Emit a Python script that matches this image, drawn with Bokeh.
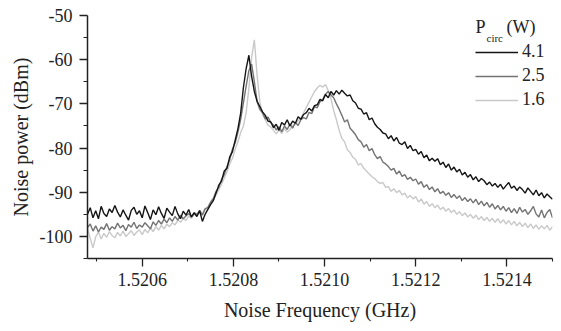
from bokeh.plotting import figure
from bokeh.models import (Range1d, FixedTicker, PrintfTickFormatter, Legend, LegendItem, Label)
from bokeh.embed import file_html
from bokeh.resources import INLINE

# ---------------- data ----------------
FREQ_START = 1.52048   # GHz, first sample
FREQ_STEP = 6e-6       # GHz, sample spacing

p_4_1 = [
    -95.0, -93.5, -95.8, -94.2, -96.0, -93.2, -94.8, -95.5, -93.8, -94.6,
    -93.0, -94.5, -95.6, -94.0, -95.2, -96.3, -94.1, -93.4, -95.0, -94.2,
    -95.8, -93.1, -94.6, -96.2, -94.0, -95.1, -93.3, -94.8, -95.9, -93.6,
    -94.5, -95.3, -93.2, -94.9, -96.0, -94.3, -95.2, -93.9, -95.6, -94.7,
    -95.5, -94.2, -96.6, -95.0, -93.9, -92.8, -91.9, -90.2, -88.4, -87.5,
    -85.2, -84.6, -82.0, -80.8, -78.2, -75.6, -72.1, -66.3, -62.0, -59.0,
    -63.8, -67.2, -69.4, -70.6, -71.8, -72.6, -73.9, -74.1, -75.4, -74.6,
    -76.0, -74.2, -74.8, -73.6, -75.0, -73.9, -74.4, -72.9, -73.5, -72.4,
    -72.0, -71.0, -71.6, -70.4, -70.2, -69.0, -69.3, -67.9, -68.6, -67.2,
    -68.0, -67.0, -67.8, -66.9, -67.6, -68.2, -68.0, -69.3, -69.8, -71.0,
    -71.2, -72.3, -72.0, -73.6, -73.2, -74.5, -75.3, -75.8, -76.6, -76.8,
    -77.9, -77.2, -78.4, -77.6, -78.9, -79.2, -78.6, -80.1, -79.4, -80.6,
    -80.3, -81.4, -80.8, -82.2, -81.6, -82.9, -82.3, -83.0, -82.4, -83.8,
    -83.2, -84.4, -83.6, -85.0, -84.3, -85.4, -84.8, -86.1, -85.5, -86.6,
    -86.0, -87.2, -86.5, -87.6, -86.9, -87.4, -88.3, -87.7, -88.6, -88.0,
    -88.9, -88.2, -89.3, -88.5, -87.8, -89.1, -88.6, -89.6, -88.8, -89.4,
    -90.2, -89.0, -89.8, -90.6, -89.5, -90.8, -90.1, -91.3, -90.4, -91.0, -91.6,
]

p_2_5 = [
    -98.0, -97.2, -98.8, -97.6, -99.0, -97.9, -98.4, -97.1, -98.6, -97.8,
    -98.3, -97.0, -98.1, -97.5, -98.7, -97.3, -97.9, -96.8, -98.2, -97.4,
    -97.9, -96.9, -97.6, -98.3, -96.7, -97.5, -96.4, -97.2, -96.1, -96.9,
    -95.8, -96.6, -95.5, -96.3, -95.2, -96.0, -95.4, -94.8, -95.6, -94.6,
    -95.0, -94.1, -95.2, -93.8, -93.4, -92.2, -91.4, -89.8, -88.9, -87.1,
    -86.0, -84.2, -82.6, -80.2, -78.8, -76.4, -73.5, -69.8, -66.0, -62.5,
    -61.0, -65.0, -69.5, -71.3, -72.0, -73.4, -73.0, -74.2, -74.8, -75.9,
    -75.2, -76.3, -75.0, -75.8, -74.6, -75.5, -74.2, -74.9, -73.6, -73.1,
    -73.4, -71.9, -72.2, -70.6, -70.9, -69.5, -69.0, -67.8, -67.2, -68.0,
    -68.6, -70.0, -71.2, -72.6, -74.1, -73.6, -75.5, -76.2, -77.0, -78.1,
    -78.6, -79.8, -79.2, -80.6, -80.1, -81.5, -82.4, -81.9, -83.2, -83.6,
    -84.2, -85.0, -84.6, -85.9, -85.2, -86.4, -86.0, -87.1, -86.6, -87.4,
    -87.0, -88.2, -87.6, -88.9, -88.3, -89.4, -88.8, -89.9, -89.2, -90.3,
    -89.8, -90.7, -90.1, -91.2, -90.5, -91.4, -90.8, -91.9, -91.2, -92.1,
    -91.5, -92.4, -91.6, -92.8, -92.0, -93.1, -92.3, -93.4, -92.6, -93.8,
    -93.0, -94.0, -93.2, -94.3, -93.5, -94.6, -93.7, -94.8, -93.4, -94.5,
    -93.9, -95.0, -94.2, -93.2, -94.9, -95.6, -94.0, -95.8, -94.6, -93.9, -95.8,
]

p_1_6 = [
    -98.2, -100.4, -102.6, -100.1, -99.0, -100.6, -99.3, -100.2, -98.9, -99.8,
    -100.3, -99.1, -99.9, -98.8, -100.0, -99.4, -98.7, -99.8, -99.0, -98.5,
    -99.6, -98.4, -99.2, -98.1, -98.9, -97.8, -98.6, -97.5, -98.3, -97.2,
    -97.8, -96.9, -97.4, -96.3, -96.8, -95.9, -96.4, -95.4, -95.9, -95.0,
    -95.2, -94.4, -94.9, -93.6, -93.9, -92.5, -91.8, -90.6, -89.5, -88.2,
    -86.8, -85.4, -83.6, -82.3, -80.2, -78.6, -76.5, -75.0, -72.0, -66.5,
    -59.5, -55.5, -63.5, -69.5, -72.4, -73.6, -74.8, -75.2, -76.0, -76.8,
    -75.9, -76.7, -75.6, -76.4, -75.8, -75.0, -74.6, -73.8, -73.2, -72.0,
    -70.8, -69.6, -68.4, -67.2, -66.4, -65.8, -66.2, -65.6, -67.0, -68.8,
    -71.5, -73.6, -76.0, -77.8, -78.6, -80.4, -81.0, -82.1, -82.6, -83.8,
    -83.5, -84.6, -85.2, -85.9, -86.5, -86.9, -87.6, -88.0, -87.8, -88.9,
    -88.7, -89.8, -89.2, -90.1, -89.6, -90.6, -90.2, -91.3, -90.7, -91.5,
    -91.0, -92.2, -91.5, -92.7, -92.1, -93.2, -92.6, -93.5, -92.9, -93.9,
    -93.4, -94.3, -93.7, -94.6, -94.0, -95.0, -94.4, -95.3, -94.7, -95.6,
    -95.0, -95.9, -95.2, -96.2, -95.5, -96.4, -95.7, -96.6, -95.9, -96.8,
    -96.0, -97.0, -96.2, -97.2, -96.4, -97.4, -96.6, -97.6, -96.8, -97.8,
    -97.0, -98.0, -97.2, -98.2, -97.4, -98.4, -97.6, -98.3, -97.5, -98.6, -97.8,
]

series_labels = ["4.1", "2.5", "1.6"]
x_ticks = [1.5206, 1.5208, 1.5210, 1.5212, 1.5214]
x_minor = [1.5205, 1.5207, 1.5209, 1.5211, 1.5213, 1.5215]
y_ticks = [-100, -90, -80, -70, -60, -50]
y_minor = [-105, -95, -85, -75, -65, -55]

freq = [round(FREQ_START + i * FREQ_STEP, 7) for i in range(len(p_4_1))]

FONT = "Liberation Serif"
X0, X1 = 1.52048, 1.52150
Y0, Y1 = -105, -50

p = figure(width=561, height=331, output_backend="svg", toolbar_location=None,
           x_range=Range1d(X0, X1), y_range=Range1d(Y0, Y1),
           min_border_left=87, min_border_right=9, min_border_top=15, min_border_bottom=73)
p.outline_line_color = None
p.grid.visible = False
p.background_fill_color = "white"
p.border_fill_color = "white"

colors = ["#141414", "#737373", "#c9c9c9"]
series = [p_4_1, p_2_5, p_1_6]
renderers = [None, None, None]
# draw light first so black is on top
for idx in [2, 1, 0]:
    renderers[idx] = p.line(freq, series[idx], line_color=colors[idx], line_width=1.4)

# axes
for ax in (p.xaxis[0], p.yaxis[0]):
    ax.axis_line_width = 1.5
    ax.axis_line_color = "#222222"
    ax.major_tick_line_color = "#222222"
    ax.minor_tick_line_color = "#222222"
    ax.major_tick_line_width = 1.3
    ax.minor_tick_line_width = 1.1
    ax.major_tick_in = 0
    ax.minor_tick_in = 0
    ax.major_tick_out = 8
    ax.major_label_text_font = FONT
    ax.major_label_text_font_size = "18px"
    ax.major_label_text_color = "#222222"
    ax.axis_label_text_font = FONT
    ax.axis_label_text_font_size = "20px"
    ax.axis_label_text_font_style = "normal"
    ax.axis_label_text_color = "#222222"

p.xaxis[0].ticker = FixedTicker(ticks=x_ticks, minor_ticks=x_minor)
p.xaxis[0].formatter = PrintfTickFormatter(format="%.4f")
p.xaxis[0].minor_tick_out = 3
p.xaxis[0].major_label_standoff = 6
p.xaxis[0].axis_label = "Noise Frequency (GHz)"
p.xaxis[0].axis_label_standoff = 10

p.yaxis[0].ticker = FixedTicker(ticks=y_ticks, minor_ticks=y_minor)
p.yaxis[0].formatter = PrintfTickFormatter(format="%d")
p.yaxis[0].minor_tick_out = 4
p.yaxis[0].major_label_standoff = 7
p.yaxis[0].axis_label = "Noise power (dBm)"
p.yaxis[0].axis_label_standoff = 5

# legend
legend = Legend(items=[LegendItem(label=lab, renderers=[renderers[i]]) for i, lab in enumerate(series_labels)],
                location=(388, 148), orientation="vertical")
legend.border_line_color = None
legend.background_fill_alpha = 0
legend.padding = 0
legend.margin = 0
legend.spacing = 3
legend.glyph_width = 43
legend.glyph_height = 20
legend.label_height = 20
legend.label_standoff = 4
legend.label_text_font = FONT
legend.label_text_font_size = "18px"
legend.label_text_color = "#222222"
p.add_layout(legend, "center")

# legend title: P_circ (W)  (positions given in pixels of the frame)
def dx(px):
    return X0 + (px - 87) * (X1 - X0) / 465.0
def dy(py):
    return Y1 - (py - 15) * (Y1 - Y0) / 243.0

p.add_layout(Label(x=dx(475), y=dy(16), text="P", text_font=FONT, text_font_size="18px",
                   text_color="#222222", text_baseline="top"))
p.add_layout(Label(x=dx(486), y=dy(31), text="circ", text_font=FONT, text_font_size="11px",
                   text_color="#222222", text_baseline="top"))
p.add_layout(Label(x=dx(506), y=dy(16), text="(W)", text_font=FONT, text_font_size="18px",
                   text_color="#222222", text_baseline="top"))

open("out.html", "w").write(file_html(p, INLINE))
